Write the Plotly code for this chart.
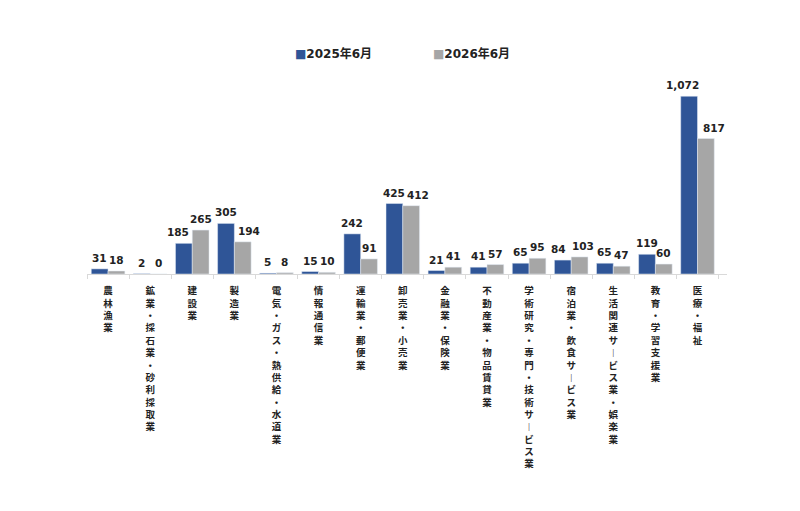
import plotly.graph_objects as go

# industries (vertical labels in the source chart)
categories = [
    "農林漁業", "鉱業・採石業・砂利採取業", "建設業", "製造業",
    "電気・ガス・熱供給・水道業", "情報通信業", "運輸業・郵便業",
    "卸売業・小売業", "金融業・保険業", "不動産業・物品賃貸業",
    "学術研究・専門・技術サービス業", "宿泊業・飲食サービス業",
    "生活関連サービス業・娯楽業", "教育・学習支援業", "医療・福祉",
]
jun_2025 = [31, 2, 185, 305, 5, 15, 242, 425, 21, 41, 65, 84, 65, 119, 1072]
jun_2026 = [18, 0, 265, 194, 8, 10, 91, 412, 41, 57, 95, 103, 47, 60, 817]
series_names = ["2025年6月", "2026年6月"]


def vertical(s):
    # stack characters one per line, long vowel mark turned upright
    return "<br>".join("︱" if c == "ー" else c for c in s)


tick_text = [vertical(c) for c in categories]

BLUE = "#2F5597"
GRAY = "#A6A6A6"
W, H = 800, 511
MARGIN = dict(l=79, r=81, t=67, b=245)
BARGAP = 0.203

# half a bar in pixels, used to put each value label over its own bar
half_bar = (W - MARGIN["l"] - MARGIN["r"]) / len(categories) * (1 - BARGAP) / 4

# a few labels are pushed sideways in the original so neighbours don't collide
nudge = {(0, 2): -6, (1, 3): 6, (1, 7): 7, (0, 11): -4, (1, 11): 3,
         (0, 14): -6, (1, 14): 8}

fig = go.Figure()
for k, (name, vals, col) in enumerate([(series_names[0], jun_2025, BLUE),
                                       (series_names[1], jun_2026, GRAY)]):
    fig.add_trace(go.Bar(x=categories, y=vals, name=name, marker_color=col,
                         showlegend=False))
    side = -1 if k == 0 else 1
    for i, (c, v) in enumerate(zip(categories, vals)):
        fig.add_annotation(
            x=c, y=v, xref="x", yref="y", text=f"<b>{v:,}</b>",
            showarrow=False, yanchor="bottom", yshift=3,
            xshift=side * half_bar + nudge.get((k, i), 0),
            font=dict(family="DejaVu Sans", size=10.5, color="#222222"),
        )

# legend drawn as annotations so the square sits close to the text
legend_font = dict(family="DejaVu Sans, Noto Sans CJK JP", size=12,
                   color="#222222", weight="bold")
for name, col, xpos in [(series_names[0], BLUE, 0.322),
                        (series_names[1], GRAY, 0.538)]:
    fig.add_annotation(
        x=xpos, y=1.11, xref="paper", yref="paper", xanchor="left",
        yanchor="middle", showarrow=False, font=legend_font,
        text=f"<span style='color:{col}'>■</span>{name}",
    )

fig.update_layout(
    width=W, height=H,
    paper_bgcolor="white", plot_bgcolor="white",
    barmode="group", bargap=BARGAP, bargroupgap=0,
    margin=MARGIN,
    font=dict(family="Noto Sans CJK JP", color="#222222"),
)
fig.update_xaxes(
    tickmode="array", tickvals=categories, ticktext=tick_text,
    tickangle=0, tickson="boundaries", ticks="outside", ticklen=4,
    tickcolor="#D9D9D9", showline=True, linecolor="#D9D9D9",
    tickfont=dict(family="Noto Sans CJK JP", size=9.5, color="#222222",
                  weight="bold"),
    ticklabelstandoff=8, automargin=False,
)
fig.update_yaxes(range=[0, 1200], visible=False)

fig.write_html("out.html")
